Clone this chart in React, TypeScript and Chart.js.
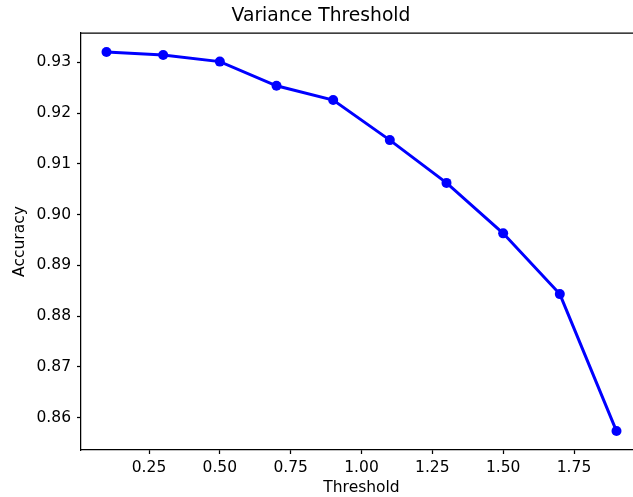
import React, { useEffect, useRef } from "react";
import { Chart, registerables } from "chart.js";

Chart.register(...registerables);

const thresholds = [0.1, 0.3, 0.5, 0.7, 0.9, 1.1, 1.3, 1.5, 1.7, 1.9];
const accuracy = [0.93202, 0.93143, 0.93013, 0.92536, 0.92255, 0.91466, 0.90623, 0.89629, 0.88432, 0.85733];
const xTicks = [0.25, 0.5, 0.75, 1.0, 1.25, 1.5, 1.75];
const yTicks = [0.86, 0.87, 0.88, 0.89, 0.9, 0.91, 0.92, 0.93];
const chartTitle = "Variance Threshold";
const xLabel = "Threshold";
const yLabel = "Accuracy";

const FONT = "DejaVu Sans";
const tickFont = { family: FONT, size: 15.5, weight: "normal" as const };

const framePlugin = {
  id: "frame",
  afterDraw(chart: any) {
    const { ctx, chartArea } = chart;
    ctx.save();
    ctx.strokeStyle = "#000";
    ctx.lineWidth = 1.25;
    ctx.beginPath();
    ctx.moveTo(chartArea.left, chartArea.top);
    ctx.lineTo(chartArea.right, chartArea.top);
    ctx.lineTo(chartArea.right, chartArea.bottom);
    ctx.stroke();
    ctx.restore();
  },
};

export default function App() {
  const ref = useRef<HTMLCanvasElement>(null);
  useEffect(() => {
    document.body.style.margin = "0";
    const chart = new Chart(ref.current!, {
      type: "line",
      data: {
        datasets: [
          {
            data: thresholds.map((x, i) => ({ x, y: accuracy[i] })),
            borderColor: "#0000ff",
            backgroundColor: "#0000ff",
            pointBackgroundColor: "#0000ff",
            pointBorderColor: "#0000ff",
            borderWidth: 3,
            pointRadius: 5,
            pointBorderWidth: 0,
            tension: 0,
          },
        ],
      },
      options: {
        animation: false,
        responsive: false,
        devicePixelRatio: 1,
        layout: { padding: { left: 0, right: 81, top: 0, bottom: 0 } },
        plugins: {
          legend: { display: false },
          tooltip: { enabled: false },
          title: {
            display: true,
            text: chartTitle,
            color: "#000",
            font: { family: FONT, size: 18.7, weight: "normal" },
            padding: { top: 5, bottom: 5.6 },
          },
        },
        scales: {
          x: {
            type: "linear",
            min: 0.01,
            max: 1.99,
            afterBuildTicks: (a: any) => {
              a.ticks = xTicks.map((v) => ({ value: v }));
            },
            afterFit: (s: any) => {
              s.height = 47;
            },
            grid: {
              display: true,
              drawOnChartArea: false,
              drawTicks: true,
              tickLength: 4,
              tickWidth: 1.25,
              tickColor: "#000",
            },
            border: { display: true, color: "#000", width: 1.25 },
            ticks: {
              color: "#000",
              font: tickFont,
              padding: 5,
              maxRotation: 0,
              autoSkip: false,
              callback: (v: any) => Number(v).toFixed(2),
            },
            title: {
              display: true,
              text: xLabel,
              color: "#000",
              font: tickFont,
              padding: { top: 0, bottom: 0 },
            },
          },
          y: {
            type: "linear",
            min: 0.8536,
            max: 0.93576,
            afterBuildTicks: (a: any) => {
              a.ticks = yTicks.map((v) => ({ value: v }));
            },
            afterFit: (s: any) => {
              s.width = 81;
            },
            grid: {
              display: true,
              drawOnChartArea: false,
              drawTicks: true,
              tickLength: 4,
              tickWidth: 1.25,
              tickColor: "#000",
            },
            border: { display: true, color: "#000", width: 1.25 },
            ticks: {
              color: "#000",
              font: tickFont,
              padding: 6,
              autoSkip: false,
              callback: (v: any) => Number(v).toFixed(2),
            },
            title: {
              display: true,
              text: yLabel,
              color: "#000",
              font: tickFont,
              padding: { top: 10.7, bottom: 0 },
            },
          },
        },
      },
      plugins: [framePlugin],
    } as any);
    return () => chart.destroy();
  }, []);
  return (
    <div style={{ width: 633, height: 497, overflow: "hidden", position: "relative" }}>
      <canvas ref={ref} width={723} height={497} style={{ display: "block" }} />
    </div>
  );
}
